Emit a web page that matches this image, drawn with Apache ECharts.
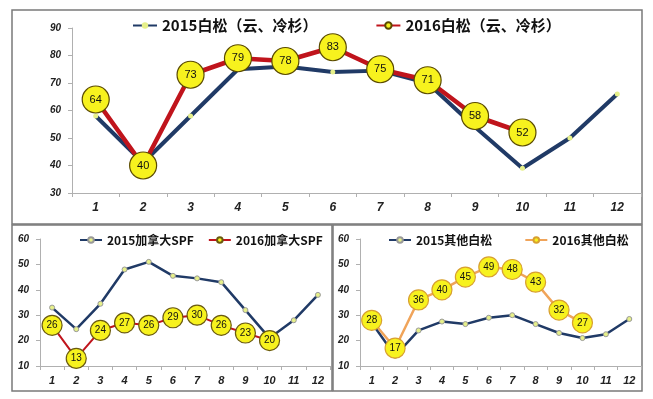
<!DOCTYPE html>
<html>
<head>
<meta charset="utf-8">
<script src="https://cdn.jsdelivr.net/npm/echarts@6/dist/echarts.min.js"></script>
<style>
  html, body { margin: 0; padding: 0; background: #fff; }
  #chart { width: 653px; height: 399px; }
</style>
</head>
<body>
<div id="chart"></div>
<script>
// 月份
const months = ['1', '2', '3', '4', '5', '6', '7', '8', '9', '10', '11', '12'];

// 白松（云、冷杉）
const whitePine2015 = [58, 41, 58, 75, 76, 74, 74.5, 70, 54, 39, 50, 66];
const whitePine2016 = [64, 40, 73, 79, 78, 83, 75, 71, 58, 52];

// 加拿大SPF
const spf2015 = [33, 24.5, 34.5, 48, 51, 45.5, 44.5, 43, 32, 21, 28, 38];
const spf2016 = [26, 13, 24, 27, 26, 29, 30, 26, 23, 20];

// 其他白松
const other2015 = [27, 14, 24, 27.5, 26.5, 29, 30, 26.5, 23, 21, 22.5, 28.5];
const other2016 = [28, 17, 36, 40, 45, 49, 48, 43, 32, 27];

const NAVY = '#203a66';
const RED = '#c0141c';
const ORANGE = '#f0a45a';
const BUBBLE = '#f7f21e';
const AXIS_GRAY = '#b0b0b0';
const LABEL_FONT = '"Liberation Sans", Arial, sans-serif';
const CJK_FONT = '"Noto Sans CJK SC", sans-serif';

const chart = echarts.init(document.getElementById('chart'));

const xAxisBase = (gridIndex, fontSize) => ({
  type: 'category',
  gridIndex,
  data: months,
  boundaryGap: true,
  axisLine: { lineStyle: { color: AXIS_GRAY, width: 1 } },
  axisTick: { show: true, length: 4, lineStyle: { color: AXIS_GRAY } },
  axisLabel: {
    color: '#222',
    fontStyle: 'italic',
    fontWeight: 'bold',
    fontFamily: LABEL_FONT,
    fontSize,
    margin: 9,
  },
  splitLine: { show: false },
});

const yAxisBase = (gridIndex, min, max) => ({
  type: 'value',
  gridIndex,
  min,
  max,
  interval: 10,
  axisLine: { show: true, lineStyle: { color: AXIS_GRAY, width: 1 } },
  axisTick: { show: true, length: 4, lineStyle: { color: AXIS_GRAY } },
  axisLabel: {
    color: '#222',
    fontStyle: 'italic',
    fontWeight: 'bold',
    fontFamily: LABEL_FONT,
    fontSize: 10,
    margin: 11,
  },
  splitLine: { show: false },
});

const baseLine = (name, data, idx, width, symbolSize, symbolBorder) => ({
  name,
  type: 'line',
  xAxisIndex: idx,
  yAxisIndex: idx,
  data,
  symbol: 'circle',
  symbolSize,
  z: 2,
  lineStyle: { color: NAVY, width },
  itemStyle: { color: '#e6f08a', borderColor: symbolBorder, borderWidth: symbolBorder ? 1 : 0 },
});

const bubbleLine = (name, data, idx, lineColor, width, size, borderColor, fontSize) => ({
  name,
  type: 'line',
  xAxisIndex: idx,
  yAxisIndex: idx,
  data,
  symbol: 'circle',
  symbolSize: size,
  z: 3,
  lineStyle: { color: lineColor, width },
  itemStyle: { color: BUBBLE, borderColor, borderWidth: 1.2 },
  label: {
    show: true,
    position: 'inside',
    color: '#111',
    fontFamily: LABEL_FONT,
    fontSize,
  },
});

const legendText = (size) => ({
  color: '#111',
  fontWeight: 'bold',
  fontFamily: CJK_FONT,
  fontSize: size,
});

const option = {
  backgroundColor: '#fff',
  animation: false,
  graphic: [
    { type: 'rect', shape: { x: 12, y: 10, width: 630, height: 214 }, style: { fill: 'none', stroke: '#7a7a7a', lineWidth: 1.5 } },
    { type: 'rect', shape: { x: 12, y: 225, width: 320, height: 166 }, style: { fill: 'none', stroke: '#7a7a7a', lineWidth: 1.5 } },
    { type: 'rect', shape: { x: 333, y: 225, width: 309, height: 166 }, style: { fill: 'none', stroke: '#7a7a7a', lineWidth: 1.5 } },
  ],
  legend: [
    {
      data: ['2015白松（云、冷杉）', '2016白松（云、冷杉）'],
      left: 127,
      top: 13,
      itemWidth: 24,
      itemHeight: 8,
      itemGap: 58,
      textStyle: legendText(15),
    },
    {
      data: ['2015加拿大SPF', '2016加拿大SPF'],
      left: 74,
      top: 229,
      itemWidth: 22,
      itemHeight: 7,
      itemGap: 14,
      textStyle: legendText(12),
    },
    {
      data: ['2015其他白松', '2016其他白松'],
      left: 383,
      top: 229,
      itemWidth: 22,
      itemHeight: 7,
      itemGap: 32,
      textStyle: legendText(12),
    },
  ],
  grid: [
    { left: 72, right: 12, top: 28, height: 165 },
    { left: 40, width: 290, top: 239, height: 127 },
    { left: 360, width: 281, top: 239, height: 127 },
  ],
  xAxis: [xAxisBase(0, 12), xAxisBase(1, 11), xAxisBase(2, 11)],
  yAxis: [yAxisBase(0, 30, 90), yAxisBase(1, 10, 60), yAxisBase(2, 10, 60)],
  series: [
    baseLine('2015白松（云、冷杉）', whitePine2015, 0, 4, 5, null),
    bubbleLine('2016白松（云、冷杉）', whitePine2016, 0, RED, 4.5, 27, '#5a4a00', 11),
    baseLine('2015加拿大SPF', spf2015, 1, 2.5, 5, '#999'),
    bubbleLine('2016加拿大SPF', spf2016, 1, RED, 2, 20, '#6a5a10', 10),
    baseLine('2015其他白松', other2015, 2, 2.5, 5, '#999'),
    bubbleLine('2016其他白松', other2016, 2, ORANGE, 2.5, 20, '#d8a030', 10),
  ],
};

chart.setOption(option);
</script>
</body>
</html>
